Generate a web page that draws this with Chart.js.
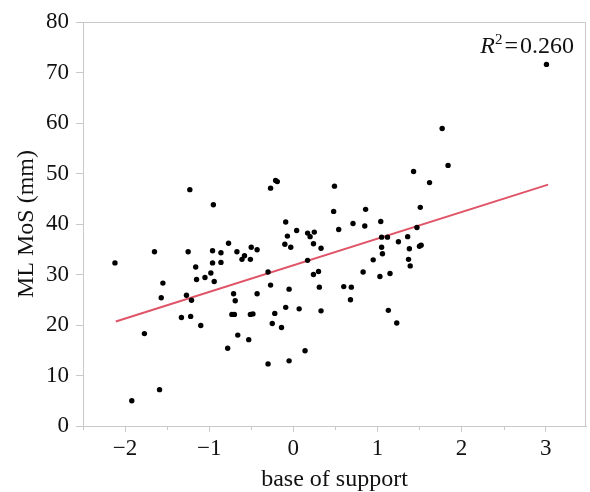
<!DOCTYPE html>
<html>
<head>
<meta charset="utf-8">
<script src="https://cdn.jsdelivr.net/npm/chart.js@4.4.1/dist/chart.umd.min.js"></script>
<style>
  html, body { margin: 0; padding: 0; background: #fff; }
</style>
</head>
<body>
<canvas id="mosChart" width="590" height="492"></canvas>
<script>
// base of support (normalised) vs ML margin of stability (mm)
const baseOfSupport = [
  -2.12, -1.65, -1.23, -0.95, -1.25, -0.77, -1.16, -0.96, -0.86, -0.96,
  -0.86, -0.67, -0.58, -0.61, -0.51, -0.50, -0.43, -1.15, -1.05, -0.98,
  -0.94, -1.55, -1.57, -1.27, -0.71, -0.43, -0.27, -0.21, -0.19, -0.09,
  -0.07, -0.10, -0.03, 0.04, -0.30, -0.27, -0.05, -1.21, -1.33, -1.22,
  -1.10, -1.77, -1.92, -1.59, -0.69, -0.73, -0.70, -0.51, -0.48, -0.66,
  -0.53, -0.78, -0.22, -0.25, -0.14, -0.09, 0.07, -0.30, -0.05, 0.14,
  0.33, 1.13, 1.23, 0.49, 0.48, 0.54, 0.86, 0.71, 0.85, 1.04,
  1.43, 1.62, 1.51, 1.47, 0.17, 0.20, 0.25, 0.24, 0.33, 0.17,
  0.24, 0.30, 0.31, 0.60, 0.69, 0.68, 0.83, 0.95, 1.03, 1.15,
  1.05, 1.12, 1.05, 1.06, 1.25, 1.36, 1.38, 1.37, 1.39, 1.50,
  1.52, 1.77, 1.84, 3.01
];
const mlMoS = [
  32.3, 34.5, 46.8, 43.8, 34.5, 36.2, 31.5, 34.7, 34.3, 32.3,
  32.4, 34.5, 33.7, 33.0, 33.0, 35.4, 34.9, 29.0, 29.4, 30.3,
  28.6, 28.3, 25.4, 25.9, 26.2, 26.2, 47.1, 48.6, 48.4, 40.4,
  37.6, 36.0, 35.4, 38.7, 30.5, 27.9, 27.1, 24.9, 21.5, 21.7,
  19.9, 18.3, 5.0, 7.2, 24.8, 22.1, 22.1, 22.1, 22.2, 18.0,
  17.1, 15.4, 22.3, 20.3, 19.5, 23.5, 23.2, 12.3, 12.9, 14.9,
  22.8, 22.9, 20.4, 47.5, 42.5, 38.9, 42.9, 40.1, 39.6, 40.5,
  50.4, 48.2, 43.3, 39.3, 38.2, 37.5, 38.4, 36.1, 35.2, 32.8,
  30.0, 30.6, 27.5, 27.6, 27.5, 25.0, 30.5, 32.9, 29.6, 30.2,
  37.4, 37.4, 35.4, 34.1, 36.5, 37.5, 35.1, 33.0, 31.7, 35.6,
  35.8, 58.9, 51.6, 71.6
];

// regression line end points
const fitX = [-2.11, 3.03];
const fitY = [20.7, 47.8];
const rSquared = '0.260';

const xTicks = [-2, -1, 0, 1, 2, 3];
const xMinorTicks = [-2.5, -1.5, -0.5, 0.5, 1.5, 2.5];
const yTicks = [0, 10, 20, 30, 40, 50, 60, 70, 80];

const frameColor = '#c9c9c9';
const serif = 'Liberation Serif, Times New Roman, serif';

const framePlugin = {
    id: 'frame',
    afterDraw(chart) {
        const ctx = chart.ctx;
        const a = chart.chartArea;
        const xs = chart.scales.x;
        ctx.save();
        ctx.strokeStyle = frameColor;
        ctx.lineWidth = 1;
        ctx.strokeRect(a.left + 0.5, a.top + 0.5, a.right - a.left - 1, a.bottom - a.top);
        // minor ticks on x
        ctx.beginPath();
        xMinorTicks.forEach(v => {
            const px = Math.round(xs.getPixelForValue(v)) + 0.5;
            ctx.moveTo(px, a.bottom);
            ctx.lineTo(px, a.bottom + 4);
        });
        ctx.stroke();

        // R² label
        ctx.fillStyle = '#111';
        ctx.textBaseline = 'alphabetic';
        ctx.textAlign = 'left';
        const base = 53;
        ctx.font = 'italic 24px ' + serif;
        const rW = ctx.measureText('R').width;
        ctx.font = '15px ' + serif;
        const sW = ctx.measureText('2').width;
        ctx.font = '24px ' + serif;
        const rest = '\u200a=\u200a' + rSquared;
        const restW = ctx.measureText(rest).width;
        let x = a.right - 12 - (rW + sW + restW);
        ctx.font = 'italic 24px ' + serif;
        ctx.fillText('R', x, base);
        x += rW;
        ctx.font = '15px ' + serif;
        ctx.fillText('2', x, base - 9);
        x += sW;
        ctx.font = '24px ' + serif;
        ctx.fillText(rest, x, base);
        ctx.restore();
    }
};

new Chart(document.getElementById('mosChart'), {
    type: 'scatter',
    data: {
        datasets: [
            {
                label: 'ML MoS',
                data: baseOfSupport.map((v, i) => ({ x: v, y: mlMoS[i] })),
                backgroundColor: '#000',
                borderColor: '#000',
                pointRadius: 2.7,
                pointBorderWidth: 0
            },
            {
                type: 'line',
                label: 'fit',
                data: fitX.map((v, i) => ({ x: v, y: fitY[i] })),
                borderColor: '#e05468',
                borderWidth: 2,
                pointRadius: 0,
                fill: false
            }
        ]
    },
    plugins: [framePlugin],
    options: {
        responsive: false,
        animation: false,
        devicePixelRatio: 1,
        layout: { padding: { top: 22, right: 2, left: 0, bottom: 0 } },
        plugins: {
            legend: { display: false },
            tooltip: { enabled: false }
        },
        scales: {
            x: {
                type: 'linear',
                min: -2.5,
                max: 3.48,
                afterBuildTicks: (scale) => { scale.ticks = xTicks.map(v => ({ value: v })); },
                afterFit: (scale) => { scale.height = 66; },
                grid: { drawOnChartArea: false, tickLength: 6, color: frameColor },
                border: { color: frameColor },
                ticks: {
                    color: '#111',
                    padding: 3,
                    font: { family: serif, size: 23 },
                    callback: (v) => String(v).replace('-', '\u2212')
                },
                title: {
                    display: true,
                    text: 'base of support',
                    color: '#111',
                    font: { family: serif, size: 24, lineHeight: 1.0 },
                    padding: { top: 0, bottom: 0 }
                }
            },
            y: {
                min: 0,
                max: 80,
                afterBuildTicks: (scale) => { scale.ticks = yTicks.map(v => ({ value: v })); },
                afterFit: (scale) => { scale.width = 83; },
                grid: { drawOnChartArea: false, tickLength: 7, color: frameColor },
                border: { color: frameColor },
                ticks: {
                    color: '#111',
                    padding: 7,
                    font: { family: serif, size: 23 }
                },
                title: {
                    display: true,
                    text: 'ML MoS (mm)',
                    color: '#111',
                    font: { family: serif, size: 24, lineHeight: 1.0 },
                    padding: { top: 15, bottom: 0 }
                }
            }
        }
    }
});
</script>
</body>
</html>
